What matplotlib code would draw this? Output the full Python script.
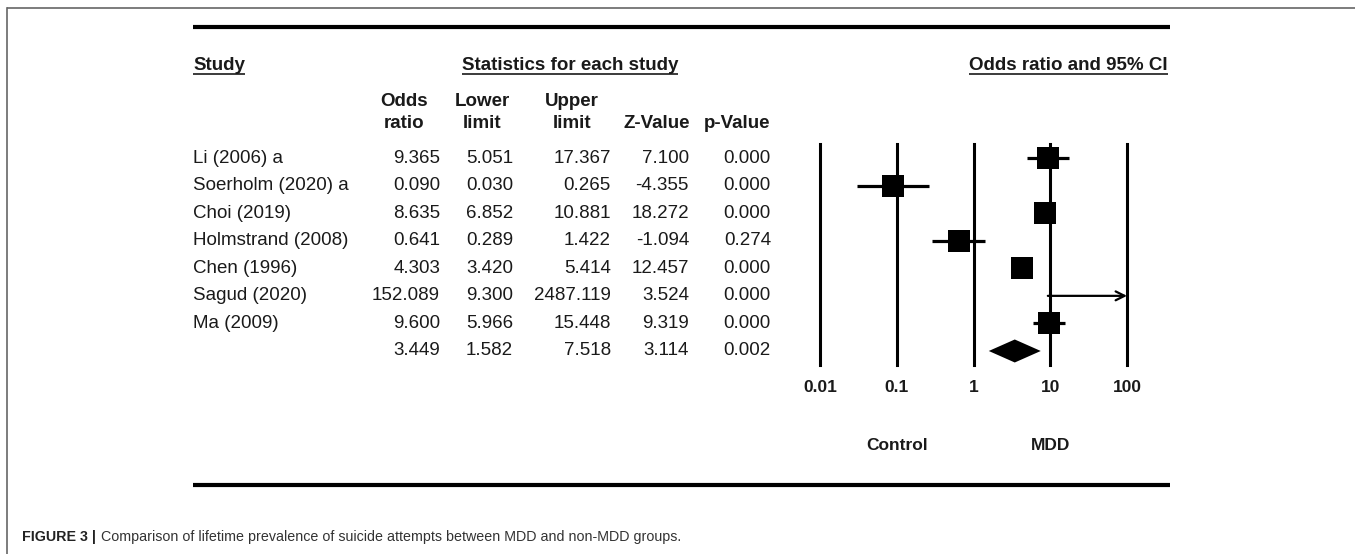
import matplotlib
matplotlib.use("Agg")
import matplotlib.pyplot as plt
from matplotlib.lines import Line2D

plt.rcParams['font.family'] = ['Liberation Sans', 'DejaVu Sans']

# data
studies = ["Li (2006) a", "Soerholm (2020) a", "Choi (2019)", "Holmstrand (2008)",
           "Chen (1996)", "Sagud (2020)", "Ma (2009)", ""]
odds = [9.365, 0.090, 8.635, 0.641, 4.303, 152.089, 9.600, 3.449]
lower = [5.051, 0.030, 6.852, 0.289, 3.420, 9.300, 5.966, 1.582]
upper = [17.367, 0.265, 10.881, 1.422, 5.414, 2487.119, 15.448, 7.518]
zval = [7.100, -4.355, 18.272, -1.094, 12.457, 3.524, 9.319, 3.114]
pval = [0.000, 0.000, 0.000, 0.274, 0.000, 0.000, 0.000, 0.002]
ticks = [0.01, 0.1, 1, 10, 100]
tick_labels = ["0.01", "0.1", "1", "10", "100"]

W, H = 1355, 554
fig = plt.figure(figsize=(W / 100, H / 100), dpi=100)


def fx(x):
    return x / W


def fy(y):
    return 1 - y / H


def hline(x0, x1, y, lw, color="k"):
    fig.add_artist(Line2D([fx(x0), fx(x1)], [fy(y), fy(y)], lw=lw, color=color, solid_capstyle="butt"))


# ramecek
fig.add_artist(Line2D([fx(7), fx(7)], [0, fy(8)], lw=1.2, color="#666666"))
hline(7, W, 8, 1.2, "#666666")

# silne linky nahore a dole
hline(193, 1170, 27, 3.0)
hline(193, 1170, 485, 3.0)

txt = "#1a1a1a"
fs = 13.5
renderer = fig.canvas.get_renderer()


def underlined(x, y, s, ha="left"):
    t = fig.text(fx(x), fy(y), s, ha=ha, va="center", fontsize=fs, fontweight="bold", color=txt)
    bb = t.get_window_extent(renderer=renderer)
    hline(bb.x0, bb.x1, 74, 1.2, txt)
    return t


underlined(193, 65, "Study")
underlined(462, 65, "Statistics for each study")
underlined(969, 65, "Odds ratio and 95% CI")

# hlavicky sloupcu
heads = [(404, "Odds", "ratio"), (482, "Lower", "limit"), (572, "Upper", "limit")]
for x, a, b in heads:
    fig.text(fx(x), fy(101), a, ha="center", va="center", fontsize=fs, fontweight="bold", color=txt)
    fig.text(fx(x), fy(123), b, ha="center", va="center", fontsize=fs, fontweight="bold", color=txt)
fig.text(fx(657), fy(123), "Z-Value", ha="center", va="center", fontsize=fs, fontweight="bold", color=txt)
fig.text(fx(737), fy(123), "p-Value", ha="center", va="center", fontsize=fs, fontweight="bold", color=txt)

# radky tabulky
row0, step = 158, 27.57
col_right = [440, 513, 611, 689, 771]
for i in range(len(studies)):
    y = row0 + i * step
    fig.text(fx(193), fy(y), studies[i], ha="left", va="center", fontsize=fs, color=txt)
    vals = [odds[i], lower[i], upper[i], zval[i], pval[i]]
    for xr, v in zip(col_right, vals):
        fig.text(fx(xr), fy(y), "%.3f" % v, ha="right", va="center", fontsize=fs, color=txt)

# forest plot
top, bot = 144, 365
ax = fig.add_axes([fx(820), fy(bot), fx(1127) - fx(820), (bot - top) / H])
ax.set_xscale("log")
ax.set_xlim(0.01, 100)
ax.set_ylim((bot - row0) / step, (top - row0) / step)
ax.axis("off")

for t in ticks:
    ax.axvline(t, color="k", lw=2.2, clip_on=False)

n = len(studies)
for i in range(n):
    if i == n - 1:
        # souhrnny odhad jako kosoctverec
        h = 11.5 / step
        ax.fill([lower[i], odds[i], upper[i], odds[i]], [i, i - h, i, i + h], color="k", lw=0)
        continue
    if upper[i] > 100:
        ax.annotate("", xy=(100, i), xytext=(lower[i], i),
                    arrowprops=dict(arrowstyle="->", lw=1.6, color="k", mutation_scale=16,
                                    shrinkA=0, shrinkB=0))
    else:
        ax.plot([lower[i], upper[i]], [i, i], color="k", lw=2.3, solid_capstyle="butt")
    if odds[i] <= 100:
        ax.plot(odds[i], i, marker="s", markersize=15.8, color="k", markeredgewidth=0)

for t, lab in zip(ticks, tick_labels):
    ax.text(t, -22 / (bot - top), lab, transform=ax.get_xaxis_transform(), ha="center", va="center",
            fontsize=12.5, fontweight="bold", color=txt)
ax.text(0.1, -(446 - bot) / (bot - top), "Control", transform=ax.get_xaxis_transform(), ha="center",
        va="center", fontsize=12.5, fontweight="bold", color=txt)
ax.text(10, -(446 - bot) / (bot - top), "MDD", transform=ax.get_xaxis_transform(), ha="center",
        va="center", fontsize=12.5, fontweight="bold", color=txt)

# popisek
cap = fig.text(fx(22), fy(537), "FIGURE 3 |", ha="left", va="center", fontsize=10.3, fontweight="bold", color="#222222")
bb = cap.get_window_extent(renderer=renderer)
fig.text(fx(bb.x1 + 5), fy(537), "Comparison of lifetime prevalence of suicide attempts between MDD and non-MDD groups.",
         ha="left", va="center", fontsize=10.3, color="#333333")

plt.savefig("out.png", dpi=100)
